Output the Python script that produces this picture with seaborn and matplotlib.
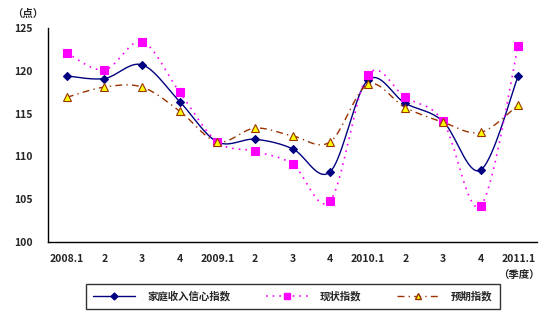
import numpy as np
import pandas as pd
import matplotlib
matplotlib.use("Agg")
import matplotlib.pyplot as plt
import seaborn as sns
from matplotlib.lines import Line2D

sns.set_style("white")
plt.rcParams['font.family'] = ['Noto Sans CJK SC', 'DejaVu Sans']
plt.rcParams['font.weight'] = 'bold'

quarters = ["2008.1", "2", "3", "4", "2009.1", "2", "3", "4",
            "2010.1", "2", "3", "4", "2011.1"]
income_conf = [119.4, 119.1, 120.7, 116.4, 111.7, 112.0, 110.9, 108.2,
               118.9, 116.2, 114.1, 108.4, 119.4]
current_idx = [122.1, 120.1, 123.4, 117.5, 111.7, 110.6, 109.1, 104.8,
               119.5, 116.9, 114.1, 104.2, 122.9]
expect_idx = [116.9, 118.1, 118.1, 115.3, 111.7, 113.3, 112.4, 111.7,
              118.4, 115.7, 114.0, 112.8, 116.0]
series_names = ["家庭收入信心指数", "现状指数", "预期指数"]
y_ticks = [100, 105, 110, 115, 120, 125]


def smooth(vals, n=20):
    # Catmull-Rom curve through the points (render smoothing, like Excel "smoothed line")
    p = np.asarray(vals, dtype=float)
    x = np.arange(len(p), dtype=float)
    pts = np.column_stack([x, p])
    ext = np.vstack([pts[0], pts, pts[-1]])
    out = []
    for i in range(len(pts) - 1):
        p0, p1, p2, p3 = ext[i], ext[i + 1], ext[i + 2], ext[i + 3]
        t = np.linspace(0, 1, n, endpoint=(i == len(pts) - 2))[:, None]
        seg = 0.5 * ((2 * p1) + (-p0 + p2) * t + (2 * p0 - 5 * p1 + 4 * p2 - p3) * t ** 2
                     + (-p0 + 3 * p1 - 3 * p2 + p3) * t ** 3)
        out.append(seg)
    out = np.vstack(out)
    return out[:, 0], out[:, 1]


W, H = 554, 333
fig = plt.figure(figsize=(W / 100, H / 100), dpi=100)
ax = fig.add_axes([48 / W, (H - 242) / H, (537 - 48) / W, (242 - 28) / H])

styles = [
    dict(color="#000080", ls="-", lw=1.0, marker="D", ms=4.5, mfc="#000080", mec="#000080"),
    dict(color="#FF00FF", ls=(0, (1, 3)), lw=1.2, marker="s", ms=5.5, mfc="#FF00FF", mec="#FF00FF"),
    dict(color="#993300", ls=(0, (5, 3, 1, 3)), lw=1.0, marker="^", ms=6, mfc="#FFFF00", mec="#993300"),
]
data = [income_conf, current_idx, expect_idx]

handles = []
for name, vals, st in zip(series_names, data, styles):
    xs, ys = smooth(vals)
    sns.lineplot(x=xs, y=ys, ax=ax, color=st["color"], linestyle=st["ls"], lw=st["lw"],
                 sort=False, estimator=None, legend=False)
    df = pd.DataFrame({"x": np.arange(len(vals)), "y": vals})
    ax.plot(df["x"], df["y"], ls="none", marker=st["marker"], ms=st["ms"],
            mfc=st["mfc"], mec=st["mec"], mew=0.8, zorder=5)
    handles.append(Line2D([0], [0], color=st["color"], ls=st["ls"], lw=st["lw"],
                          marker=st["marker"], ms=st["ms"] - 1, mfc=st["mfc"], mec=st["mec"]))

ax.set_xlim(-0.5, len(quarters) - 0.5)
ax.set_ylim(100, 125)
ax.set_yticks(y_ticks)
ax.set_yticklabels([str(v) for v in y_ticks], fontsize=7.5, fontweight="bold")
ax.set_xticks(np.arange(len(quarters)))
ax.set_xticklabels(quarters, fontsize=7.5, fontweight="bold")
ax.set_xticks(np.arange(len(quarters)) + 0.5, minor=True)
ax.tick_params(axis="x", which="major", length=0, pad=9)
ax.tick_params(axis="x", which="minor", direction="in", length=4, width=1, color="black")
ax.tick_params(axis="y", which="major", direction="out", length=4, width=1, color="black", pad=7)
for s in ["top", "right"]:
    ax.spines[s].set_visible(False)
for s in ["left", "bottom"]:
    ax.spines[s].set_color("black")
    ax.spines[s].set_linewidth(1.0)
ax.grid(False)

fig.text(12 / W, 1 - 14 / H, "（点）", fontsize=7.5, fontweight="bold", va="center", ha="left")
fig.text(540 / W, 1 - 276 / H, "（季度）", fontsize=7.5, fontweight="bold", va="center", ha="right")

leg = fig.legend(handles, series_names, loc="center",
                 bbox_to_anchor=(293 / W, 1 - 296.5 / H), ncol=3, frameon=True,
                 fancybox=False, edgecolor="black", handlelength=4,
                 columnspacing=3.4, handletextpad=1.2, borderpad=0.7,
                 prop={"weight": "bold", "size": 7.5})
leg.get_frame().set_linewidth(1.0)

fig.savefig("out.png", dpi=100)
